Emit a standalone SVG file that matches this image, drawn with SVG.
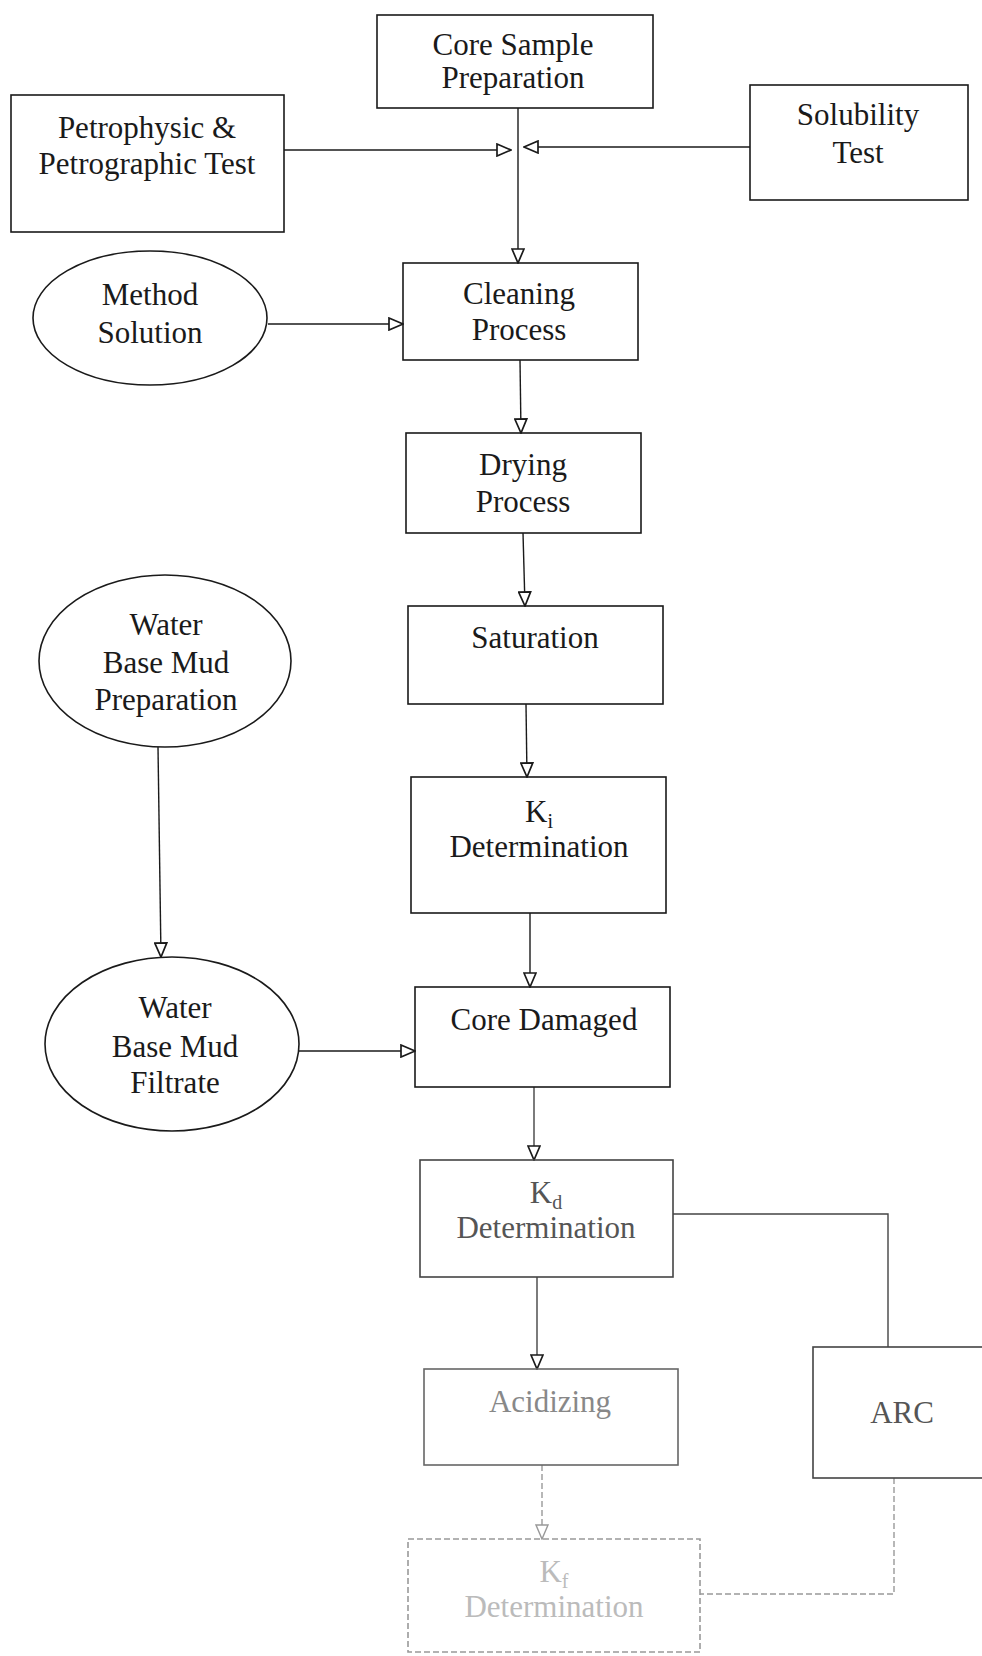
<svg xmlns="http://www.w3.org/2000/svg" width="982" height="1656" viewBox="0 0 982 1656">
<style>
text{font-family:"Liberation Serif","Times New Roman",serif;font-size:31px;text-anchor:middle;fill:#1a1a1a}
.box{fill:none;stroke:#1a1a1a;stroke-width:1.6}
.c{fill:none;stroke:#1a1a1a;stroke-width:1.4}
.g1{stroke:#444}
.g2{stroke:#666}
.g3{stroke:#999;stroke-dasharray:6 3}
.t1{fill:#555}
.t2{fill:#888}
.t3{fill:#bbb}
.sub{font-size:20px}
</style>
<defs>
<marker id="ah" viewBox="0 0 16 14" refX="15" refY="7" markerWidth="16" markerHeight="14" markerUnits="userSpaceOnUse" orient="auto">
<path d="M1,1 L15,7 L1,13 Z" fill="#fff" stroke="#1a1a1a" stroke-width="1.7"/>
</marker>
<marker id="ahg" viewBox="0 0 16 14" refX="15" refY="7" markerWidth="16" markerHeight="14" markerUnits="userSpaceOnUse" orient="auto">
<path d="M1,1 L15,7 L1,13 Z" fill="#fff" stroke="#999" stroke-width="1.4"/>
</marker>
</defs>
<rect width="982" height="1656" fill="#fff"/>

<g id="connectors">
<line class="c" x1="518" y1="108" x2="518" y2="263" marker-end="url(#ah)"/>
<line class="c" x1="284" y1="150" x2="511" y2="150" marker-end="url(#ah)"/>
<line class="c" x1="750" y1="147" x2="524" y2="147" marker-end="url(#ah)"/>
<line class="c" x1="268" y1="324" x2="403" y2="324" marker-end="url(#ah)"/>
<line class="c" x1="520" y1="360" x2="521" y2="433" marker-end="url(#ah)"/>
<line class="c" x1="523" y1="533" x2="525" y2="606" marker-end="url(#ah)"/>
<line class="c" x1="526" y1="704" x2="527" y2="777" marker-end="url(#ah)"/>
<line class="c" x1="158" y1="747" x2="161" y2="957" marker-end="url(#ah)"/>
<line class="c" x1="299" y1="1051" x2="415" y2="1051" marker-end="url(#ah)"/>
<line class="c" x1="530" y1="913" x2="530" y2="987" marker-end="url(#ah)"/>
<line class="c g1" x1="534" y1="1087" x2="534" y2="1160" marker-end="url(#ah)"/>
<polyline class="c g1" points="673,1214 888,1214 888,1347"/>
<line class="c g1" x1="537" y1="1277" x2="537" y2="1369" marker-end="url(#ah)"/>
<line class="c g3" x1="542" y1="1465" x2="542" y2="1539" marker-end="url(#ahg)"/>
<polyline class="c g3" points="894,1478 894,1594 700,1594"/>
</g>

<g id="core-sample">
<rect class="box" x="377" y="15" width="276" height="93"/>
<text x="513" y="55">Core Sample</text>
<text x="513" y="88">Preparation</text>
</g>
<g id="petrophysic">
<rect class="box" x="11" y="95" width="273" height="137"/>
<text x="147" y="138">Petrophysic &amp;</text>
<text x="147" y="174">Petrographic Test</text>
</g>
<g id="solubility">
<rect class="box" x="750" y="85" width="218" height="115"/>
<text x="858" y="125">Solubility</text>
<text x="858" y="163">Test</text>
</g>
<g id="method-solution">
<ellipse class="box" cx="150" cy="318" rx="117" ry="67"/>
<text x="150" y="305">Method</text>
<text x="150" y="343">Solution</text>
</g>
<g id="cleaning">
<rect class="box" x="403" y="263" width="235" height="97"/>
<text x="519" y="304">Cleaning</text>
<text x="519" y="340">Process</text>
</g>
<g id="drying">
<rect class="box" x="406" y="433" width="235" height="100"/>
<text x="523" y="475">Drying</text>
<text x="523" y="512">Process</text>
</g>
<g id="saturation">
<rect class="box" x="408" y="606" width="255" height="98"/>
<text x="535" y="648">Saturation</text>
</g>
<g id="wbm-preparation">
<ellipse class="box" cx="165" cy="661" rx="126" ry="86"/>
<text x="166" y="635">Water</text>
<text x="166" y="673">Base Mud</text>
<text x="166" y="710">Preparation</text>
</g>
<g id="ki-determination">
<rect class="box" x="411" y="777" width="255" height="136"/>
<text x="539" y="822">K<tspan class="sub" dy="6">i</tspan></text>
<text x="539" y="857">Determination</text>
</g>
<g id="wbm-filtrate">
<ellipse class="box" cx="172" cy="1044" rx="127" ry="87"/>
<text x="175" y="1018">Water</text>
<text x="175" y="1057">Base Mud</text>
<text x="175" y="1093">Filtrate</text>
</g>
<g id="core-damaged">
<rect class="box" x="415" y="987" width="255" height="100"/>
<text x="544" y="1030">Core Damaged</text>
</g>
<g id="kd-determination">
<rect class="box g1" x="420" y="1160" width="253" height="117"/>
<text class="t1" x="546" y="1203">K<tspan class="sub" dy="6">d</tspan></text>
<text class="t1" x="546" y="1238">Determination</text>
</g>
<g id="acidizing">
<rect class="box g2" x="424" y="1369" width="254" height="96"/>
<text class="t2" x="550" y="1412">Acidizing</text>
</g>
<g id="arc">
<rect class="box g1" x="813" y="1347" width="185" height="131"/>
<text class="t1" x="902" y="1423">ARC</text>
</g>
<g id="kf-determination">
<rect class="box g3" x="408" y="1539" width="292" height="113"/>
<text class="t3" x="554" y="1582">K<tspan class="sub" dy="6">f</tspan></text>
<text class="t3" x="554" y="1617">Determination</text>
</g>
</svg>
